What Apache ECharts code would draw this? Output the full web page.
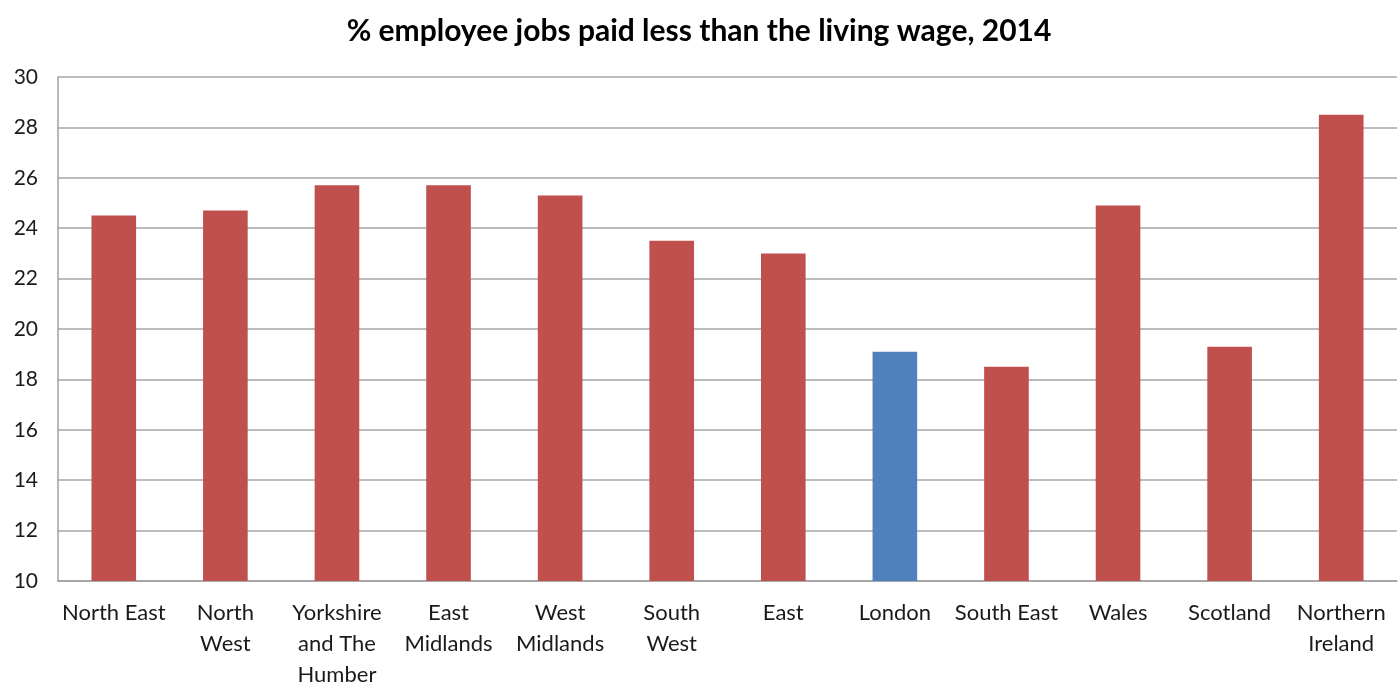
<!DOCTYPE html>
<html>
<head>
<meta charset="utf-8">
<script src="https://cdn.jsdelivr.net/npm/echarts@6/dist/echarts.min.js"></script>
<style>
  html, body { margin: 0; padding: 0; background: #fff; }
  #main { width: 1398px; height: 683px; }
</style>
</head>
<body>
<div id="main"></div>
<script>
// regions in chart order
var regions = ['North East', 'North West', 'Yorkshire and The Humber', 'East Midlands',
  'West Midlands', 'South West', 'East', 'London', 'South East', 'Wales', 'Scotland',
  'Northern Ireland'];
// label text as wrapped on the original axis
var tickLabels = ['North East', 'North\nWest', 'Yorkshire\nand The\nHumber', 'East\nMidlands',
  'West\nMidlands', 'South\nWest', 'East', 'London', 'South East', 'Wales', 'Scotland',
  'Northern\nIreland'];
var pctLowPaid = [24.5, 24.7, 25.7, 25.7, 25.3, 23.5, 23.0, 19.1, 18.5, 24.9, 19.3, 28.5];
var highlight = 'London';

var font = 'Lato, "DejaVu Sans", sans-serif';
var myChart = echarts.init(document.getElementById('main'));

var option = {
  backgroundColor: '#fff',
  animation: false,
  title: {
    text: '% employee jobs paid less than the living wage, 2014',
    left: 'center',
    top: 11,
    textStyle: { fontFamily: font, fontSize: 30, fontWeight: 'bold', color: '#000' }
  },
  grid: { left: 58, right: 1, top: 77, bottom: 102, containLabel: false, outerBoundsMode: 'none' },
  xAxis: {
    type: 'category',
    data: regions,
    axisLine: { lineStyle: { color: '#a0a0a0', width: 1.5 } },
    axisTick: { show: false },
    axisLabel: {
      interval: 0,
      margin: 16,
      fontFamily: font,
      fontSize: 22,
      lineHeight: 31,
      color: '#1a1a1a',
      formatter: function (v, i) { return tickLabels[i]; }
    }
  },
  yAxis: {
    type: 'value',
    min: 10,
    max: 30,
    interval: 2,
    axisLine: { show: true, lineStyle: { color: '#a0a0a0', width: 1.5 } },
    axisTick: { show: false },
    splitLine: { lineStyle: { color: '#a6a6a6', width: 1.5 } },
    axisLabel: { margin: 20, fontFamily: font, fontSize: 21, color: '#1a1a1a' }
  },
  series: [{
    type: 'bar',
    barWidth: '40%',
    data: pctLowPaid.map(function (v, i) {
      return {
        value: v,
        itemStyle: { color: regions[i] === highlight ? '#4f81bd' : '#c0504d' }
      };
    })
  }]
};

myChart.setOption(option);
</script>
</body>
</html>
